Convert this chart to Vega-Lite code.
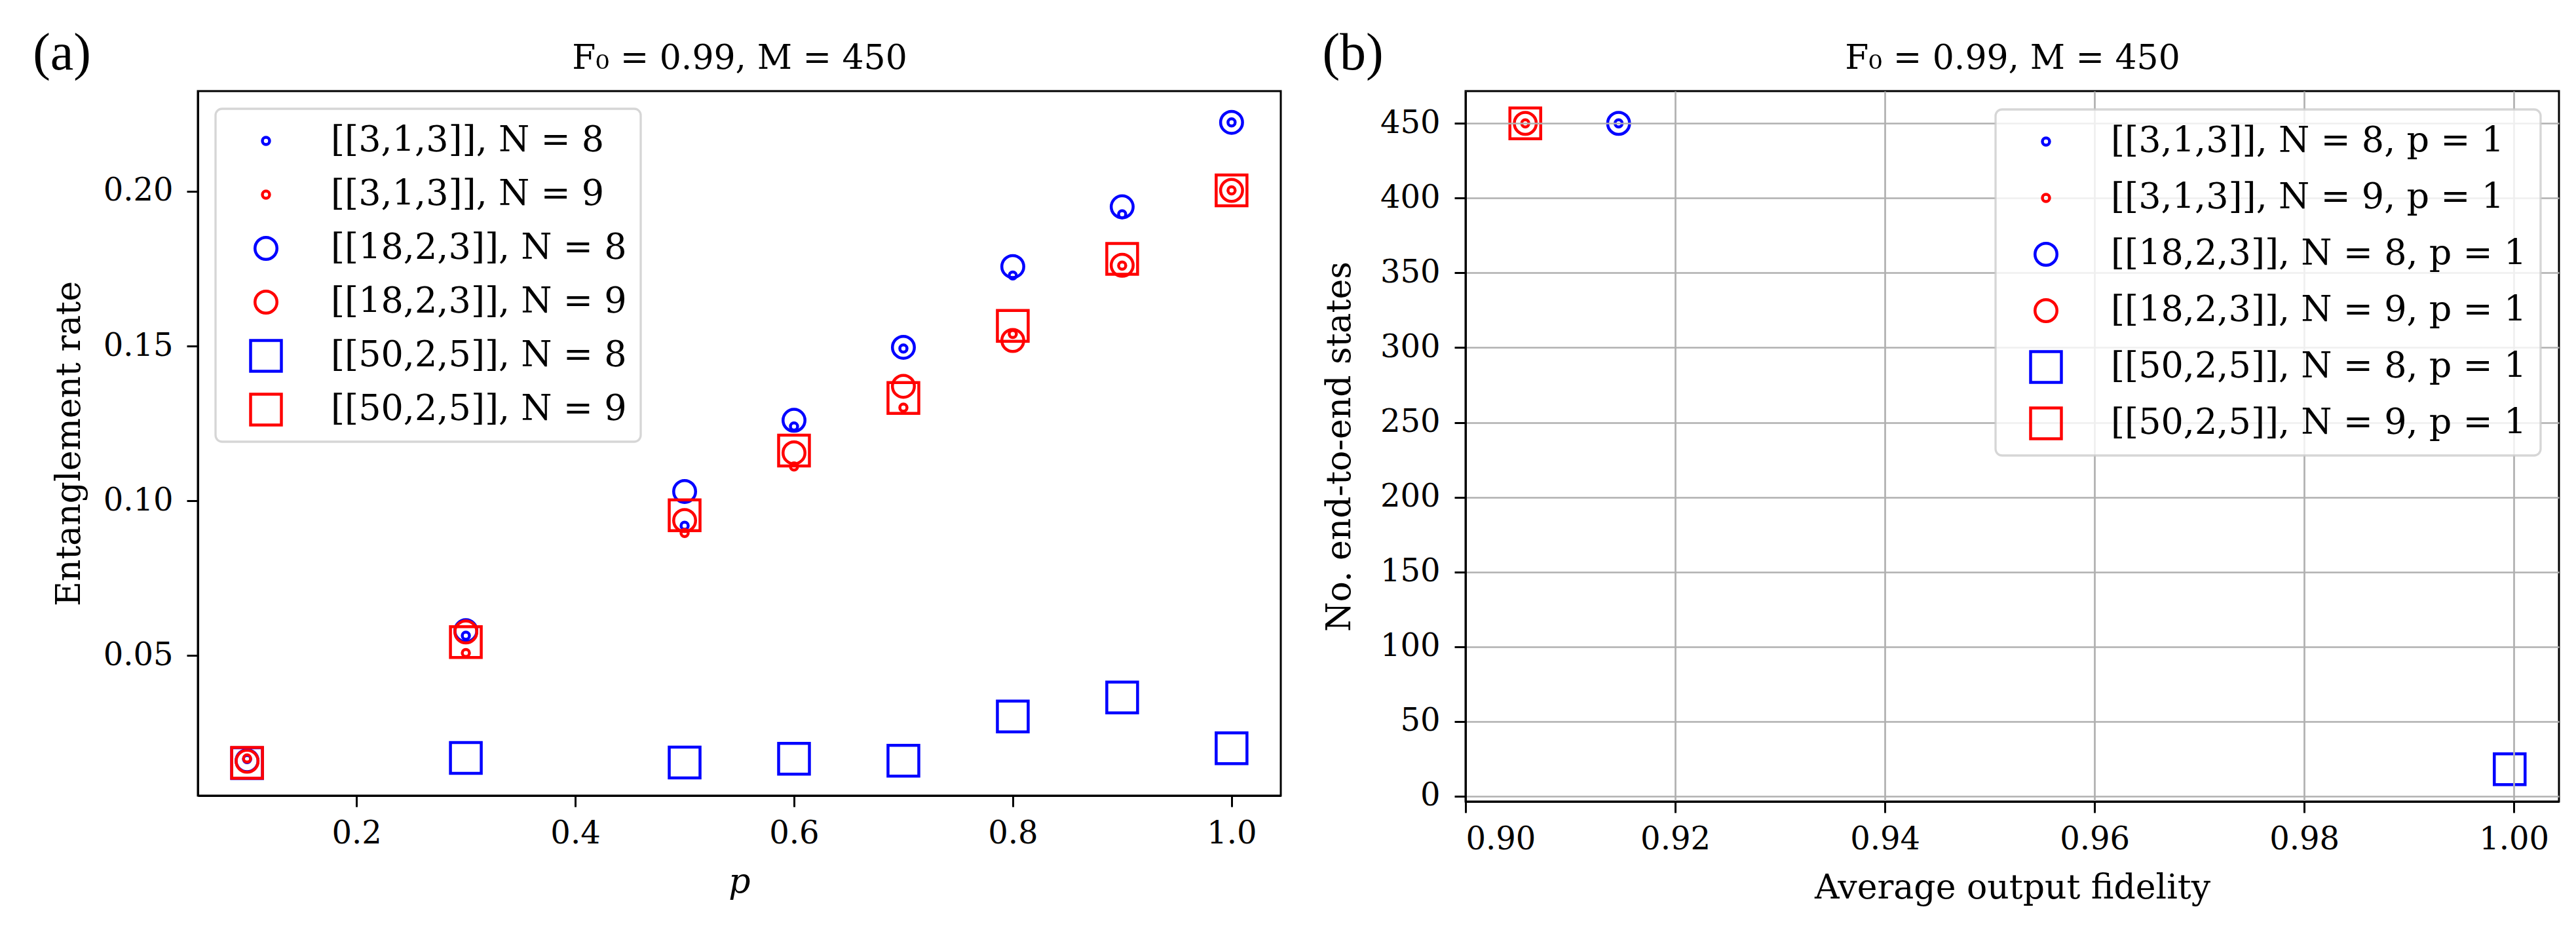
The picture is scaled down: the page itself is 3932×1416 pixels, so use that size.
{
  "$schema": "https://vega.github.io/schema/vega-lite/v6.json",
  "background": "white",
  "padding": {"left": 48, "top": 40, "right": 10, "bottom": 10},
  "datasets": {
    "rate": [
      {"series": "[[3,1,3]], N = 8", "p": 0.1, "rate": 0.0165},
      {"series": "[[3,1,3]], N = 8", "p": 0.3, "rate": 0.0564},
      {"series": "[[3,1,3]], N = 8", "p": 0.5, "rate": 0.0919},
      {"series": "[[3,1,3]], N = 8", "p": 0.6, "rate": 0.1240},
      {"series": "[[3,1,3]], N = 8", "p": 0.7, "rate": 0.1492},
      {"series": "[[3,1,3]], N = 8", "p": 0.8, "rate": 0.1728},
      {"series": "[[3,1,3]], N = 8", "p": 0.9, "rate": 0.1926},
      {"series": "[[3,1,3]], N = 8", "p": 1.0, "rate": 0.2223},
      {"series": "[[3,1,3]], N = 9", "p": 0.1, "rate": 0.0167},
      {"series": "[[3,1,3]], N = 9", "p": 0.3, "rate": 0.0508},
      {"series": "[[3,1,3]], N = 9", "p": 0.5, "rate": 0.0896},
      {"series": "[[3,1,3]], N = 9", "p": 0.6, "rate": 0.1111},
      {"series": "[[3,1,3]], N = 9", "p": 0.7, "rate": 0.1301},
      {"series": "[[3,1,3]], N = 9", "p": 0.8, "rate": 0.1539},
      {"series": "[[3,1,3]], N = 9", "p": 0.9, "rate": 0.1760},
      {"series": "[[3,1,3]], N = 9", "p": 1.0, "rate": 0.2003},
      {"series": "[[18,2,3]], N = 8", "p": 0.1, "rate": 0.0160},
      {"series": "[[18,2,3]], N = 8", "p": 0.3, "rate": 0.0580},
      {"series": "[[18,2,3]], N = 8", "p": 0.5, "rate": 0.1030},
      {"series": "[[18,2,3]], N = 8", "p": 0.6, "rate": 0.1260},
      {"series": "[[18,2,3]], N = 8", "p": 0.7, "rate": 0.1496},
      {"series": "[[18,2,3]], N = 8", "p": 0.8, "rate": 0.1757},
      {"series": "[[18,2,3]], N = 8", "p": 0.9, "rate": 0.1950},
      {"series": "[[18,2,3]], N = 8", "p": 1.0, "rate": 0.2223},
      {"series": "[[18,2,3]], N = 9", "p": 0.1, "rate": 0.0158},
      {"series": "[[18,2,3]], N = 9", "p": 0.3, "rate": 0.0576},
      {"series": "[[18,2,3]], N = 9", "p": 0.5, "rate": 0.0936},
      {"series": "[[18,2,3]], N = 9", "p": 0.6, "rate": 0.1155},
      {"series": "[[18,2,3]], N = 9", "p": 0.7, "rate": 0.1370},
      {"series": "[[18,2,3]], N = 9", "p": 0.8, "rate": 0.1518},
      {"series": "[[18,2,3]], N = 9", "p": 0.9, "rate": 0.1761},
      {"series": "[[18,2,3]], N = 9", "p": 1.0, "rate": 0.2003},
      {"series": "[[50,2,5]], N = 8", "p": 0.1, "rate": 0.0152},
      {"series": "[[50,2,5]], N = 8", "p": 0.3, "rate": 0.0169},
      {"series": "[[50,2,5]], N = 8", "p": 0.5, "rate": 0.0154},
      {"series": "[[50,2,5]], N = 8", "p": 0.6, "rate": 0.0166},
      {"series": "[[50,2,5]], N = 8", "p": 0.7, "rate": 0.0160},
      {"series": "[[50,2,5]], N = 8", "p": 0.8, "rate": 0.0303},
      {"series": "[[50,2,5]], N = 8", "p": 0.9, "rate": 0.0364},
      {"series": "[[50,2,5]], N = 8", "p": 1.0, "rate": 0.0200},
      {"series": "[[50,2,5]], N = 9", "p": 0.1, "rate": 0.0153},
      {"series": "[[50,2,5]], N = 9", "p": 0.3, "rate": 0.0543},
      {"series": "[[50,2,5]], N = 9", "p": 0.5, "rate": 0.0953},
      {"series": "[[50,2,5]], N = 9", "p": 0.6, "rate": 0.1162},
      {"series": "[[50,2,5]], N = 9", "p": 0.7, "rate": 0.1332},
      {"series": "[[50,2,5]], N = 9", "p": 0.8, "rate": 0.1565},
      {"series": "[[50,2,5]], N = 9", "p": 0.9, "rate": 0.1782},
      {"series": "[[50,2,5]], N = 9", "p": 1.0, "rate": 0.2003}
    ],
    "states": [
      {"series": "[[3,1,3]], N = 8, p = 1", "fidelity": 0.9146, "states": 450},
      {"series": "[[3,1,3]], N = 9, p = 1", "fidelity": 0.9057, "states": 450},
      {"series": "[[18,2,3]], N = 8, p = 1", "fidelity": 0.9146, "states": 450},
      {"series": "[[18,2,3]], N = 9, p = 1", "fidelity": 0.9057, "states": 450},
      {"series": "[[50,2,5]], N = 8, p = 1", "fidelity": 0.9996, "states": 18},
      {"series": "[[50,2,5]], N = 9, p = 1", "fidelity": 0.9057, "states": 450}
    ]
  },
  "config": {
    "view": {"stroke": "black", "strokeWidth": 3},
    "font": "DejaVu Serif",
    "axis": {
      "domainColor": "black", "domainWidth": 3,
      "tickColor": "black", "tickWidth": 3, "tickSize": 17,
      "labelFont": "DejaVu Serif", "labelFontSize": 48, "labelColor": "black",
      "titleFont": "DejaVu Serif", "titleFontSize": 52, "titleFontWeight": "normal", "titleColor": "black",
      "grid": false
    },
    "axisX": {"labelPadding": 17, "titlePadding": 24},
    "axisY": {"labelPadding": 21},
    "legend": {
      "title": null,
      "labelFont": "DejaVu Serif", "labelFontSize": 54, "labelColor": "black", "labelLimit": 0,
      "fillColor": "rgba(255,255,255,0.8)", "strokeColor": "rgba(204,204,204,0.8)", "strokeWidth": 3.3,
      "cornerRadius": 10, "padding": 21, "symbolOffset": 29, "labelOffset": 72,
      "clipHeight": 56, "symbolStrokeWidth": 4.5, "zindex": 2
    }
  },
  "resolve": {
    "scale": {"color": "independent", "shape": "independent", "size": "independent"},
    "legend": {"color": "independent", "shape": "independent", "size": "independent"}
  },
  "spacing": 59,
  "hconcat": [
    {
      "width": 1653,
      "height": 1075,
      "title": {"text": "(a)", "anchor": "start", "frame": "bounds", "font": "Liberation Serif", "fontSize": 80, "fontWeight": "normal", "color": "black", "dx": -29, "dy": 61, "offset": 0},
      "data": {"name": "rate"},
      "resolve": {"scale": {"x": "independent"}, "axis": {"x": "independent"}},
      "layer": [
        {
          "mark": {"type": "point", "filled": false, "strokeWidth": 4.5, "opacity": 1},
          "encoding": {
            "x": {"field": "p", "type": "quantitative",
              "scale": {"domain": [0.055, 1.045], "nice": false, "zero": false},
              "axis": {"orient": "bottom", "values": [0.2, 0.4, 0.6, 0.8, 1.0], "format": ".1f", "title": "p", "titleFontStyle": "italic"}},
            "y": {"field": "rate", "type": "quantitative",
              "scale": {"domain": [0.0047, 0.2324], "nice": false, "zero": false},
              "axis": {"values": [0.05, 0.1, 0.15, 0.2], "format": ".2f", "title": "Entanglement rate", "titlePadding": 25}},
            "color": {"field": "series", "type": "nominal",
              "scale": {"domain": ["[[3,1,3]], N = 8", "[[3,1,3]], N = 9", "[[18,2,3]], N = 8", "[[18,2,3]], N = 9", "[[50,2,5]], N = 8", "[[50,2,5]], N = 9"],
                        "range": ["#0000ff", "#ff0000", "#0000ff", "#ff0000", "#0000ff", "#ff0000"]},
              "legend": {"orient": "top-left", "offset": 27, "rowPadding": 26}},
            "shape": {"field": "series", "type": "nominal",
              "scale": {"domain": ["[[3,1,3]], N = 8", "[[3,1,3]], N = 9", "[[18,2,3]], N = 8", "[[18,2,3]], N = 9", "[[50,2,5]], N = 8", "[[50,2,5]], N = 9"],
                        "range": ["circle", "circle", "circle", "circle", "square", "square"]},
              "legend": {"orient": "top-left", "offset": 27, "rowPadding": 26}},
            "size": {"field": "series", "type": "nominal",
              "scale": {"type": "ordinal", "domain": ["[[3,1,3]], N = 8", "[[3,1,3]], N = 9", "[[18,2,3]], N = 8", "[[18,2,3]], N = 9", "[[50,2,5]], N = 8", "[[50,2,5]], N = 9"],
                        "range": [120, 120, 1122, 1122, 2209, 2209]},
              "legend": {"orient": "top-left", "offset": 27, "rowPadding": 26}}
          }
        },
        {
          "mark": {"type": "point", "opacity": 0},
          "encoding": {
            "x": {"field": "p", "type": "quantitative",
              "scale": {"domain": [0.055, 1.045], "nice": false, "zero": false},
              "axis": {"orient": "top", "labels": false, "ticks": false, "domain": false, "title": "F₀ = 0.99, M = 450", "titlePadding": 35, "titleBaseline": "alphabetic"}}
          }
        }
      ]
    },
    {
      "width": 1669,
      "height": 1084,
      "title": {"text": "(b)", "anchor": "start", "frame": "bounds", "font": "Liberation Serif", "fontSize": 80, "fontWeight": "normal", "color": "black", "dx": 0, "dy": 61, "offset": 0},
      "data": {"name": "states"},
      "resolve": {"scale": {"x": "independent"}, "axis": {"x": "independent"}},
      "layer": [
        {
          "mark": {"type": "point", "filled": false, "strokeWidth": 4.5, "opacity": 1},
          "encoding": {
            "x": {"field": "fidelity", "type": "quantitative",
              "scale": {"domain": [0.9, 1.0043], "nice": false, "zero": false},
              "axis": {"orient": "bottom", "values": [0.9, 0.92, 0.94, 0.96, 0.98, 1.0], "format": ".2f", "title": "Average output fidelity",
                       "grid": true, "gridColor": "#b0b0b0", "gridWidth": 2.7, "zindex": 1}},
            "y": {"field": "states", "type": "quantitative",
              "scale": {"domain": [-3.6, 471.6], "nice": false, "zero": false},
              "axis": {"values": [0, 50, 100, 150, 200, 250, 300, 350, 400, 450], "title": "No. end-to-end states", "titlePadding": 35, "labelPadding": 22,
                       "grid": true, "gridColor": "#b0b0b0", "gridWidth": 2.7, "zindex": 1}},
            "color": {"field": "series", "type": "nominal",
              "scale": {"domain": ["[[3,1,3]], N = 8, p = 1", "[[3,1,3]], N = 9, p = 1", "[[18,2,3]], N = 8, p = 1", "[[18,2,3]], N = 9, p = 1", "[[50,2,5]], N = 8, p = 1", "[[50,2,5]], N = 9, p = 1"],
                        "range": ["#0000ff", "#ff0000", "#0000ff", "#ff0000", "#0000ff", "#ff0000"]},
              "legend": {"orient": "top-right", "offset": 28, "rowPadding": 30}},
            "shape": {"field": "series", "type": "nominal",
              "scale": {"domain": ["[[3,1,3]], N = 8, p = 1", "[[3,1,3]], N = 9, p = 1", "[[18,2,3]], N = 8, p = 1", "[[18,2,3]], N = 9, p = 1", "[[50,2,5]], N = 8, p = 1", "[[50,2,5]], N = 9, p = 1"],
                        "range": ["circle", "circle", "circle", "circle", "square", "square"]},
              "legend": {"orient": "top-right", "offset": 28, "rowPadding": 30}},
            "size": {"field": "series", "type": "nominal",
              "scale": {"type": "ordinal", "domain": ["[[3,1,3]], N = 8, p = 1", "[[3,1,3]], N = 9, p = 1", "[[18,2,3]], N = 8, p = 1", "[[18,2,3]], N = 9, p = 1", "[[50,2,5]], N = 8, p = 1", "[[50,2,5]], N = 9, p = 1"],
                        "range": [120, 120, 1122, 1122, 2209, 2209]},
              "legend": {"orient": "top-right", "offset": 28, "rowPadding": 30}}
          }
        },
        {
          "mark": {"type": "point", "opacity": 0},
          "encoding": {
            "x": {"field": "fidelity", "type": "quantitative",
              "scale": {"domain": [0.9, 1.0043], "nice": false, "zero": false},
              "axis": {"orient": "top", "labels": false, "ticks": false, "domain": false, "grid": false, "title": "F₀ = 0.99, M = 450", "titlePadding": 35, "titleBaseline": "alphabetic"}}
          }
        }
      ]
    }
  ]
}
